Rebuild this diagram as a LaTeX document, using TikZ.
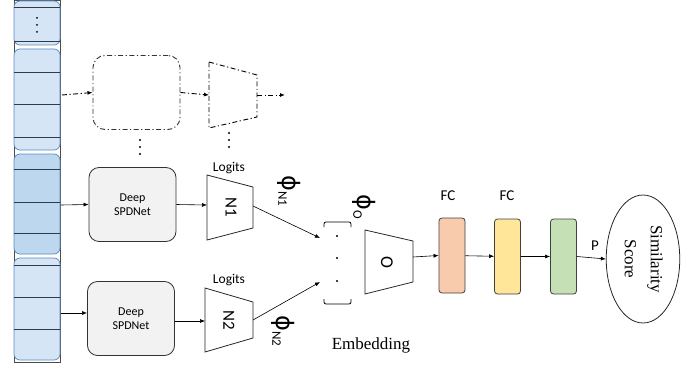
\documentclass[tikz,border=0pt]{standalone}
\usepackage{fontspec}
\setmainfont{Carlito}
\newfontfamily\serifface{Liberation Serif}
\newfontfamily\phiface{DejaVu Sans}
\usetikzlibrary{positioning,arrows.meta,shapes.geometric}
\definecolor{cellblue}{HTML}{D5E5F5}
\definecolor{celldark}{HTML}{BDD7EE}
\definecolor{cellline}{HTML}{5A8AC0}
\definecolor{cellrule}{HTML}{2E3B4A}
\definecolor{boxgray}{HTML}{F2F2F2}
\definecolor{fcone}{HTML}{F8CBAD}
\definecolor{fctwo}{HTML}{FFE699}
\definecolor{fcthree}{HTML}{C5E0B4}
\newcommand{\phisub}[1]{\rotatebox{-90}{{\phiface\fontsize{24}{24}\selectfont ϕ}\raisebox{-4pt}{\fontsize{13}{13}\selectfont #1}}}
\newcommand{\sidetext}[2]{\rotatebox{-90}{\fontsize{#1}{#1}\selectfont #2}}
\begin{document}
\begin{tikzpicture}[x=1pt,y=1pt,
  flow/.style={-{Latex[length=5pt,width=4pt]}, line width=0.6pt},
  ghost/.style={dash pattern=on 5pt off 2.5pt on 1.2pt off 2.5pt, line width=0.9pt},
  spd/.style={draw=black!80, fill=boxgray, rounded corners=10pt, minimum width=87pt,
    minimum height=74pt, align=center, inner sep=0pt, line width=0.8pt,
    font=\fontsize{12}{14}\selectfont},
  fc/.style={draw=black!75, rounded corners=3pt, minimum width=26pt, minimum height=75pt,
    inner sep=0pt, line width=0.8pt},
  trap/.style={draw=black!85, line width=0.8pt},
  group/.style={draw=cellline, rounded corners=6pt, line width=0.7pt},
  lbl/.style={font=\fontsize{13.5}{14}\selectfont},
  dot/.style={fill=black, circle, inner sep=0pt, minimum size=2.4pt}]

\useasboundingbox (0,0) rectangle (697,-369);

% input column
\draw [black!70, line width=0.8pt] (14,0) rectangle (60,-362);
\foreach \t/\b/\c in {1/45/cellblue, 49/150/cellblue, 154/254/celldark, 258/360/cellblue}
  \draw [group, fill=\c] (14,-\t) rectangle (60,-\b);
\foreach \y in {7,41,72,104,137,169,202,233,265,297,329}
  \draw [cellrule, line width=0.8pt] (14,-\y) -- (60,-\y);
\foreach \y in {18,25,32}
  \node [dot, minimum size=2pt] at (37,-\y) {};
\coordinate (c0) at (62,-95);
\coordinate (c1) at (61,-205);
\coordinate (c2) at (61,-313);

% dashed branch
\node (gbox) at (136.5,-92.5) [spd, fill=none, ghost, rounded corners=12pt] {};
\draw [ghost] (209,-62) -- (257,-75) -- (257,-117) -- (209,-128) -- cycle;
\coordinate (gtw) at (209,-95);
\coordinate (gte) at (257,-95);
\coordinate (gout) at (285,-95);
\draw [flow, ghost] (c0) -- (gbox.west);
\draw [flow, ghost] (gbox.east) -- (gtw);
\draw [flow, ghost] (gte) -- (gout);
\foreach \y in {140,147,154}
  \node [dot] at (140,-\y) {};
\foreach \y in {133,140,147}
  \node [dot] at (229,-\y) {};

% first branch
\node (spd1) at (132.5,-204.5) [spd] {Deep\\SPDNet};
\draw [trap] (207,-175) -- (253,-187) -- (253,-228) -- (207,-240) -- cycle;
\node (n1) at (231,-207.5) {\sidetext{17}{N1}};
\node at (229,-168) [lbl] {Logits};
\coordinate (n1w) at (207,-205);
\coordinate (n1e) at (253,-206);
\draw [flow] (c1) -- (spd1.west);
\draw [flow] (spd1.east) -- (n1w);

% second branch
\node (spd2) at (131,-318.5) [spd] {Deep\\SPDNet};
\draw [trap] (205,-288) -- (253,-302) -- (253,-338) -- (205,-352) -- cycle;
\node (n2) at (229,-320) {\sidetext{17}{N2}};
\node at (229,-280) [lbl] {Logits};
\coordinate (n2w) at (205,-321);
\coordinate (n2e) at (253,-320);
\draw [flow] (c2) -- (c2 -| spd2.west);
\draw [flow] (spd2.east |- n2w) -- (n2w);

% embedding
\draw [line width=0.8pt, rounded corners=2pt] (324,-227) -- (324,-222) -- (351,-222) -- (351,-227);
\draw [line width=0.8pt, rounded corners=2pt] (324,-299) -- (324,-304) -- (351,-304) -- (351,-299);
\node (emb) at (337,-258) [dot] {};
\node [dot] at (337,-236) {};
\node [dot] at (337,-281) {};
\coordinate (e1) at (320,-238);
\coordinate (e2) at (320,-282);
\draw [flow] (n1e) -- (e1);
\draw [flow] (n2e) -- (e2);
\node at (289,-191) {\phisub{N1}};
\node at (283,-331) {\phisub{N2}};
\node at (364,-207) {\phisub{O}};
\node at (371,-345) [font=\serifface\fontsize{17}{17}\selectfont] {Embedding};

% output head
\draw [trap] (365,-230) -- (413,-241) -- (413,-282) -- (365,-294) -- cycle;
\node (o) at (387,-262) {\sidetext{18}{O}};
\coordinate (oe) at (413,-257);
\node (fc1) at (452,-255.5) [fc, fill=fcone] {};
\node (fc2) at (507.5,-256.5) [fc, fill=fctwo] {};
\node (fc3) at (563.5,-256.5) [fc, fill=fcthree] {};
\node at (448,-196) [font=\fontsize{15}{15}\selectfont] {FC};
\node at (507,-196) [font=\fontsize{15}{15}\selectfont] {FC};
\node (score) at (643,-259) [ellipse, draw=black!85, line width=0.8pt, minimum width=57pt,
  minimum height=128pt, inner sep=0pt]
  {\rotatebox{-90}{\serifface\fontsize{17}{26}\selectfont\begin{tabular}{c}Similarity\\Score\end{tabular}}};
\draw [flow] (oe) -- (fc1.west);
\draw [flow] (fc1) -- (fc2);
\draw [flow] (fc2) -- (fc3);
\draw [flow] (fc3.east) -- (score.west);
\node at (595,-246) [font=\fontsize{15}{15}\selectfont] {P};

\end{tikzpicture}
\end{document}
